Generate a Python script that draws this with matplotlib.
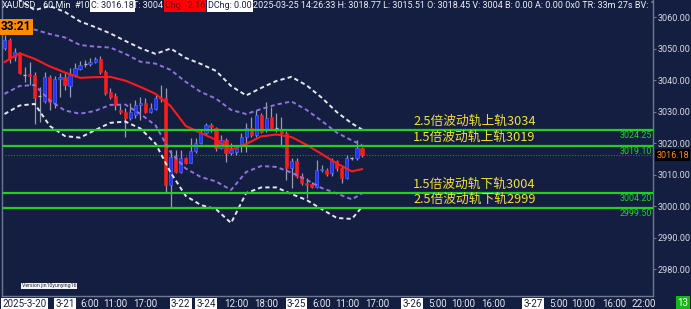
import matplotlib
matplotlib.use("Agg")
import matplotlib.pyplot as plt

# ---------------- data ----------------
opens = [3050.1, 3052.7, 3047.4, 3048.5, 3041.6, 3041.8, 3041.6, 3035.0, 3033.3, 3041.0,
         3032.6, 3040.3, 3041.0, 3038.2, 3041.6, 3043.5, 3045.0, 3045.0, 3045.8, 3046.7,
         3042.5, 3036.3, 3034.9, 3030.5, 3029.7, 3028.0, 3028.9, 3032.1, 3032.8, 3029.7,
         3030.8, 3034.2, 3034.2, 3006.7, 3015.7, 3010.9, 3015.1, 3013.8, 3017.5, 3019.9,
         3023.1, 3025.7, 3024.7, 3018.5, 3021.0, 3016.7, 3017.0, 3019.4, 3022.0, 3024.9,
         3022.5, 3028.9, 3024.1, 3028.3, 3024.7, 3024.1, 3023.1, 3012.0, 3014.3, 3009.6,
         3007.2, 3006.9, 3006.1, 3011.4, 3011.4, 3010.4, 3014.3, 3012.0, 3008.8, 3015.1,
         3015.1, 3018.45]
highs = [3054.3, 3053.4, 3050.1, 3048.8, 3044.2, 3045.8, 3042.6, 3037.9, 3042.6, 3041.6,
         3041.4, 3042.1, 3042.1, 3043.7, 3045.3, 3046.0, 3046.3, 3046.9, 3047.3, 3047.7,
         3043.2, 3037.4, 3035.8, 3032.1, 3031.0, 3032.6, 3033.7, 3034.7, 3034.2, 3032.6,
         3035.2, 3038.4, 3037.4, 3017.8, 3017.8, 3017.8, 3015.7, 3021.5, 3021.5, 3024.1,
         3026.2, 3026.2, 3025.2, 3022.5, 3021.5, 3019.9, 3018.8, 3023.1, 3026.2, 3028.3,
         3030.5, 3029.4, 3033.1, 3031.5, 3029.4, 3028.3, 3023.8, 3015.1, 3015.1, 3010.4,
         3008.8, 3007.7, 3014.6, 3013.0, 3012.0, 3015.1, 3014.6, 3013.0, 3016.2, 3015.6,
         3021.0, 3018.77]
lows = [3049.5, 3045.3, 3046.0, 3041.8, 3039.5, 3038.4, 3025.9, 3026.8, 3032.6, 3030.5,
        3031.0, 3034.7, 3036.8, 3034.7, 3041.0, 3043.2, 3044.2, 3044.5, 3045.3, 3041.8,
        3035.2, 3034.0, 3030.5, 3029.1, 3022.0, 3027.3, 3027.8, 3027.3, 3029.4, 3029.4,
        3030.5, 3033.1, 3004.0, 2999.8, 3010.4, 3010.4, 3013.3, 3013.5, 3016.7, 3019.7,
        3022.5, 3023.6, 3017.5, 3018.1, 3014.1, 3016.2, 3016.2, 3017.2, 3017.2, 3022.0,
        3022.0, 3023.1, 3023.6, 3024.1, 3023.6, 3019.4, 3008.3, 3005.8, 3008.8, 3006.7,
        3002.6, 3005.6, 3005.8, 3010.9, 3009.6, 3009.6, 3011.1, 3007.2, 3008.6, 3014.6,
        3014.6, 3015.51]
closes = [3052.7, 3047.1, 3049.0, 3042.1, 3041.6, 3041.3, 3034.2, 3035.0, 3040.9, 3032.9,
          3040.3, 3040.9, 3038.4, 3041.6, 3043.7, 3044.8, 3045.0, 3045.8, 3046.6, 3042.6,
          3035.8, 3034.7, 3032.1, 3029.7, 3028.0, 3029.7, 3032.1, 3032.8, 3029.9, 3031.0,
          3034.2, 3034.2, 3006.7, 3015.7, 3010.9, 3015.1, 3013.8, 3017.5, 3019.9, 3023.1,
          3025.7, 3025.0, 3018.3, 3021.0, 3016.7, 3017.8, 3018.3, 3022.0, 3024.9, 3022.5,
          3028.9, 3023.6, 3028.0, 3024.7, 3024.7, 3023.1, 3012.0, 3014.3, 3009.6, 3007.2,
          3006.7, 3006.1, 3011.4, 3011.6, 3010.1, 3014.3, 3012.0, 3009.0, 3015.1, 3015.1,
          3018.3, 3016.18]

band_bars = [0, 3, 6, 9, 12, 15, 18, 21, 24, 27, 30, 33, 36, 39, 42, 45, 48, 51, 54, 57,
             60, 63, 66, 69, 71]
ma_line = [3045.7, 3048.5, 3046.7, 3044.3, 3042.4, 3040.7, 3040.9, 3041.0, 3039.8, 3037.8,
           3035.6, 3031.7, 3025.4, 3023.2, 3021.0, 3017.9, 3019.7, 3022.1, 3022.7, 3021.9,
           3019.4, 3016.5, 3013.5, 3011.0, 3011.7]
inner_upper = [3057.8, 3056.8, 3056.0, 3054.6, 3053.5, 3051.1, 3050.6, 3050.3, 3048.3, 3045.8,
               3045.2, 3043.2, 3039.4, 3036.2, 3034.1, 3030.5, 3029.2, 3030.8, 3032.2, 3033.2,
               3030.5, 3027.0, 3023.3, 3020.8, 3019.4]
inner_lower = [3035.6, 3038.1, 3038.4, 3033.5, 3030.3, 3029.3, 3030.2, 3032.1, 3032.2, 3029.2,
               3025.6, 3017.0, 3011.9, 3009.2, 3007.8, 3005.1, 3010.8, 3012.7, 3012.4, 3010.6,
               3008.3, 3005.7, 3004.0, 3002.1, 3004.0]
outer_upper = [3068.6, 3065.4, 3062.2, 3063.5, 3061.6, 3058.6, 3056.8, 3054.8, 3052.4, 3050.1,
               3048.3, 3050.0, 3047.0, 3045.1, 3042.9, 3038.1, 3035.1, 3037.5, 3039.7, 3041.0,
               3038.3, 3034.4, 3029.8, 3026.2, 3024.3]
outer_lower = [3029.2, 3031.9, 3032.4, 3025.4, 3022.2, 3021.7, 3024.1, 3026.4, 3026.8, 3024.6,
               3019.8, 3010.6, 3003.2, 3000.3, 2999.0, 2994.6, 3004.1, 3005.9, 3005.9, 3003.8,
               3001.9, 2999.0, 2996.2, 2995.9, 2999.7]

level_values = [3024.25, 3019.10, 3004.20, 2999.50]
level_labels = ["3024.25", "3019.10", "3004.20", "2999.50"]
level_notes = ["2.5倍波动轨上轨3034", "1.5倍波动轨上轨3019",
               "1.5倍波动轨下轨3004", "2.5倍波动轨下轨2999"]
last_price = 3016.18

xtick_pos = [0, 12, 17, 22, 28, 35, 40, 46, 52, 58, 63, 68, 74, 81, 86, 91, 97,
             105, 110, 115, 121, 127]
xtick_labels = ["2025-3-20", "3-21", "6:00", "11:00", "17:00", "3-22", "3-24", "12:00",
                "18:00", "3-25", "6:00", "11:00", "17:00", "3-26", "5:00", "10:00",
                "16:00", "3-27", "5:00", "10:00", "16:00", "22:00"]
ytick_values = [2980, 2990, 3000, 3010, 3020, 3030, 3040, 3050, 3060]

header_parts = [
    ("XAUUSD", None, None),
    ("60 Min", None, None),
    ("#10", None, None),
    ("C: 3016.18", "white", "#1a2040"),
    ("T: 3004", None, None),
    ("Chg: -2.16", "#ff0000", "#5a0000"),
    ("DChg: 0.00", "white", "#1a2040"),
    ("2025-03-25 14:26:33 H: 3018.77 L: 3015.51 O: 3018.45 V: 3004 B: 0.00 A: 0.00 0x0 "
     "TR: 33m 27s BV: 1449", None, None),
]
header_x_px = [2, 43, 74, 91, 133, 165, 208, 253]

# ---------------- styling ----------------
BG = "#141e40"
W, H = 691, 309
plt.rcParams["font.family"] = ["Roboto", "DejaVu Sans"]

fig = plt.figure(figsize=(W / 100, H / 100), dpi=100)
fig.patch.set_facecolor(BG)
ax_l, ax_r, ax_t, ax_b = 2, 653, 0, 296
ax = fig.add_axes([ax_l / W, (H - ax_b) / H, (ax_r - ax_l) / W, (ax_b - ax_t) / H])
ax.set_facecolor(BG)
ax.set_xlim(-0.5, 128.8)
ax.set_ylim(2971.43, 3065.40)

for s in ["left", "right", "bottom"]:
    ax.spines[s].set_color("#6d7794")
    ax.spines[s].set_linewidth(1.0)
ax.spines["top"].set_visible(False)

# candles
idx = list(range(len(opens)))
RED, BLUE, WICK = "#ff1c1c", "#1f35ff", "#9a9cb0"
ax.vlines(idx, lows, highs, color=WICK, linewidth=0.9, zorder=2)
for i in idx:
    o, c = opens[i], closes[i]
    if abs(c - o) < 0.15:
        ax.hlines(o, i - 0.3, i + 0.3, color="#b8b8c8", linewidth=1.0, zorder=3)
        continue
    col = BLUE if c > o else RED
    ax.bar(i, abs(c - o), bottom=min(o, c), width=0.64, color=col,
           edgecolor=("#5d6cff" if c > o else RED), linewidth=0.4, zorder=3)

# bands
dash = (0, (2.2, 1.6))
ax.plot(band_bars, outer_upper, color="#e6e6ee", linewidth=1.4, linestyle=dash, zorder=4)
ax.plot(band_bars, outer_lower, color="#e6e6ee", linewidth=1.4, linestyle=dash, zorder=4)
ax.plot(band_bars, inner_upper, color="#8f72dc", linewidth=1.4, linestyle=dash, zorder=4)
ax.plot(band_bars, inner_lower, color="#8f72dc", linewidth=1.4, linestyle=dash, zorder=4)
ax.plot(band_bars, ma_line, color="#ff1a1a", linewidth=1.5, zorder=5)

# current price dotted line
ax.axhline(last_price, xmin=0.004, color="#2f7d4a", linewidth=0.8, linestyle=(0, (1, 1.5)), zorder=1)

# horizontal levels
for v, lab, note in zip(level_values, level_labels, level_notes):
    ax.axhline(v, color="#1fd01f", linewidth=1.6, zorder=6)
    ax.annotate(lab, xy=(1.0, v), xycoords=("axes fraction", "data"),
                xytext=(-1, -1), textcoords="offset points", ha="right", va="top",
                color="#27d027", fontsize=6.4, zorder=7)
    ax.annotate(note, xy=((413 - ax_l) / (ax_r - ax_l), v), xycoords=("axes fraction", "data"),
                xytext=(0, 1.2), textcoords="offset points", ha="left", va="bottom",
                color="#f3e03c", fontsize=9.2, family=["Noto Sans CJK SC", "DejaVu Sans"],
                zorder=7)

# y axis on right
ax.yaxis.tick_right()
ax.set_yticks(ytick_values)
ax.set_yticklabels([f"{v:.2f}" for v in ytick_values])
ax.tick_params(axis="y", colors="#6d7794", labelcolor="#d8dbe4", labelsize=6.5, length=2, pad=1)
ax.set_xticks([])

# current price tag
ax.annotate(f"{last_price:.2f}", xy=(1.0, last_price), xycoords=("axes fraction", "data"),
            xytext=(2.4, 0), textcoords="offset points", ha="left", va="center",
            color="#ff8c1a", fontsize=6.5, annotation_clip=False,
            bbox=dict(boxstyle="square,pad=0.15", fc="black", ec="none"))

# x labels
xt = ax.get_xaxis_transform()
for p, lab in zip(xtick_pos, xtick_labels):
    is_date = "-" in lab
    ha = "left" if p == xtick_pos[0] else "center"
    xpos = -0.4 if p == xtick_pos[0] else p
    kw = dict(color="#1a2040", bbox=dict(boxstyle="square,pad=0.12", fc="white", ec="none")) if is_date \
        else dict(color="#e8eaf0")
    ax.text(xpos, -8 / (ax_b - ax_t), lab, transform=xt, ha=ha, va="center",
            fontsize=7, clip_on=False, **kw)

# header
for (txt, fc, tc), px in zip(header_parts, header_x_px):
    kw = {}
    if fc is not None:
        kw["bbox"] = dict(boxstyle="square,pad=0.12", fc=fc, ec="none")
        color = tc
    else:
        color = "#eef0f5"
    ax.text((px - ax_l) / (ax_r - ax_l), 1 - 6 / (ax_b - ax_t), txt, transform=ax.transAxes,
            ha="left", va="center", fontsize=6.5, color=color, clip_on=True, zorder=8, **kw)

# countdown box
fig.text(1 / W, 1 - 27 / H, "33:21", ha="left", va="center", fontsize=8.5, fontweight="bold",
         color="black", bbox=dict(boxstyle="square,pad=0.15", fc="#ff8c00", ec="none"))

# version tag
ax.text((22 - ax_l) / (ax_r - ax_l), 1 - 286 / (ax_b - ax_t), "Version jin10yunying16",
        transform=ax.transAxes, ha="left", va="center", fontsize=3.8, color="#202840",
        bbox=dict(boxstyle="square,pad=0.1", fc="#f4f4f4", ec="none"))

# bottom-right green box
fig.text(683 / W, 1 - 303 / H, "13", ha="center", va="center", fontsize=7, color="white",
         bbox=dict(boxstyle="square,pad=0.2", fc="#14b814", ec="none"))

fig.savefig("out.png", dpi=100, facecolor=BG)
